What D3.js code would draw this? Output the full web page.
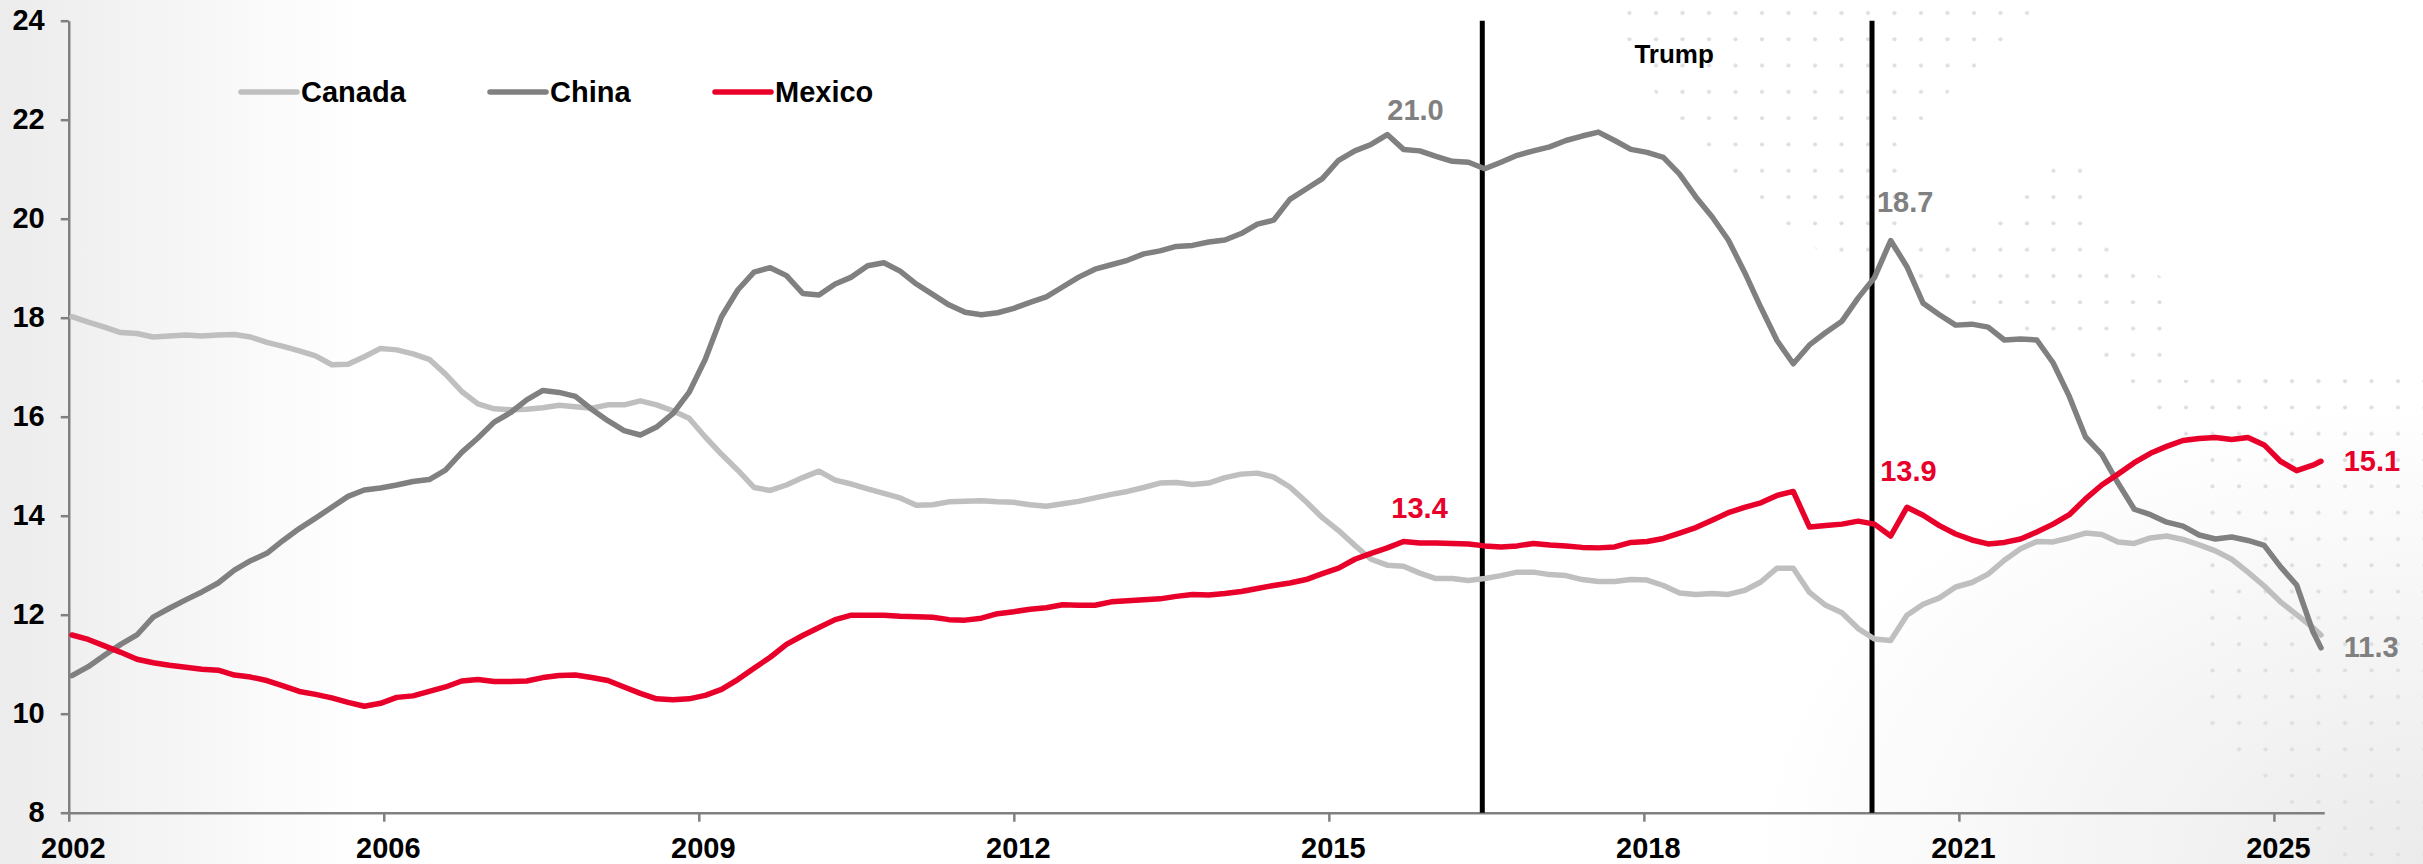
<!DOCTYPE html>
<html>
<head>
<meta charset="utf-8">
<script src="https://cdn.jsdelivr.net/npm/d3@7"></script>
<style>
  body { margin: 0; background: #fff; }
  svg { display: block; font-family: "Liberation Sans", Arial, sans-serif; font-weight: bold; }
</style>
</head>
<body>
<script>
// months counted from Jul 2002, sampled every second month
var months = d3.range(0, 277, 2).concat([277]);

var canada = [
  18.02, 17.91, 17.81, 17.70, 17.68, 17.61, 17.63, 17.65, 17.63, 17.65,
  17.66, 17.61, 17.50, 17.42, 17.33, 17.23, 17.05, 17.06, 17.21, 17.38,
  17.35, 17.27, 17.16, 16.86, 16.51, 16.26, 16.16, 16.14, 16.15, 16.18,
  16.23, 16.20, 16.17, 16.24, 16.24, 16.32, 16.24, 16.12, 15.97, 15.59,
  15.24, 14.92, 14.57, 14.51, 14.62, 14.77, 14.90, 14.72, 14.64, 14.54,
  14.45, 14.36, 14.21, 14.22, 14.28, 14.29, 14.30, 14.28, 14.27, 14.22,
  14.19, 14.24, 14.29, 14.36, 14.43, 14.49, 14.57, 14.66, 14.67, 14.63,
  14.66, 14.77, 14.84, 14.86, 14.78, 14.58, 14.28, 13.96, 13.70, 13.40,
  13.12, 13.00, 12.98, 12.84, 12.73, 12.73, 12.69, 12.73, 12.79, 12.86,
  12.86, 12.81, 12.79, 12.71, 12.67, 12.67, 12.71, 12.70, 12.59, 12.44,
  12.41, 12.43, 12.41, 12.49, 12.66, 12.94, 12.94, 12.45, 12.19, 12.04,
  11.72, 11.51, 11.48, 11.99, 12.21, 12.34, 12.56, 12.65, 12.82, 13.10,
  13.33, 13.48, 13.47, 13.55, 13.65, 13.62, 13.47, 13.44, 13.55, 13.59,
  13.52, 13.41, 13.29, 13.12, 12.86, 12.58, 12.26, 12.00, 11.74, 11.59
];

var china = [
  10.77, 10.95, 11.18, 11.40, 11.59, 11.95, 12.13, 12.30, 12.46, 12.64,
  12.90, 13.09, 13.24, 13.50, 13.74, 13.95, 14.17, 14.39, 14.52, 14.56,
  14.62, 14.69, 14.73, 14.92, 15.28, 15.57, 15.89, 16.08, 16.34, 16.53,
  16.49, 16.41, 16.15, 15.92, 15.72, 15.63, 15.79, 16.06, 16.49, 17.16,
  18.02, 18.56, 18.92, 19.01, 18.85, 18.49, 18.46, 18.68, 18.82, 19.05,
  19.11, 18.94, 18.68, 18.47, 18.26, 18.11, 18.06, 18.10, 18.19, 18.31,
  18.42, 18.62, 18.82, 18.98, 19.07, 19.16, 19.29, 19.35, 19.44, 19.46,
  19.53, 19.57, 19.70, 19.89, 19.97, 20.39, 20.60, 20.81, 21.18, 21.37,
  21.50, 21.70, 21.40, 21.37, 21.26, 21.16, 21.14, 21.01, 21.14, 21.28,
  21.37, 21.45, 21.58, 21.67, 21.75, 21.58, 21.40, 21.34, 21.24, 20.90,
  20.44, 20.04, 19.57, 18.92, 18.21, 17.54, 17.07, 17.45, 17.70, 17.93,
  18.40, 18.81, 19.56, 19.03, 18.29, 18.06, 17.85, 17.87, 17.81, 17.55,
  17.57, 17.55, 17.09, 16.41, 15.59, 15.24, 14.66, 14.13, 14.02, 13.87,
  13.79, 13.61, 13.53, 13.57, 13.50, 13.40, 12.97, 12.60, 11.66, 11.33
];

var mexico = [
  11.59, 11.50, 11.37, 11.24, 11.10, 11.03, 10.98, 10.94, 10.90, 10.88,
  10.78, 10.74, 10.67, 10.56, 10.45, 10.39, 10.32, 10.23, 10.15, 10.21,
  10.33, 10.36, 10.45, 10.54, 10.66, 10.69, 10.65, 10.65, 10.66, 10.73,
  10.77, 10.78, 10.73, 10.67, 10.54, 10.41, 10.30, 10.28, 10.30, 10.37,
  10.49, 10.69, 10.92, 11.14, 11.40, 11.58, 11.74, 11.90, 11.99, 11.99,
  11.99, 11.97, 11.96, 11.95, 11.90, 11.89, 11.93, 12.02, 12.06, 12.11,
  12.14, 12.20, 12.19, 12.19, 12.26, 12.28, 12.30, 12.32, 12.37, 12.41,
  12.40, 12.43, 12.47, 12.53, 12.59, 12.64, 12.71, 12.83, 12.94, 13.12,
  13.24, 13.35, 13.48, 13.45, 13.45, 13.44, 13.43, 13.39, 13.37, 13.39,
  13.44, 13.41, 13.39, 13.36, 13.35, 13.37, 13.46, 13.48, 13.54, 13.65,
  13.76, 13.91, 14.06, 14.17, 14.26, 14.41, 14.49, 13.77, 13.80, 13.83,
  13.89, 13.83, 13.59, 14.17, 14.01, 13.80, 13.63, 13.51, 13.43, 13.46,
  13.53, 13.67, 13.83, 14.02, 14.34, 14.62, 14.84, 15.07, 15.26, 15.40,
  15.52, 15.56, 15.58, 15.54, 15.58, 15.43, 15.10, 14.91, 15.02, 15.10
];

var seriesNames = ["Canada", "China", "Mexico"];
var yTicks = [8, 10, 12, 14, 16, 18, 20, 22, 24];
var xTickMonths = [-0.4, 38.4, 77.2, 116.0, 154.8, 193.6, 232.4, 271.2];
var xTickLabels = ["2002", "2006", "2009", "2012", "2015", "2018", "2021", "2025"];
var trumpMonths = [173.7, 221.7];
var valueLabels = ["21.0", "13.4", "18.7", "13.9", "15.1", "11.3"];

var width = 2423,
    height = 864;

var colors = ["#bfbfbf", "#808080", "#e8002a"];
var series = [canada, china, mexico];

var x = d3.scaleLinear()
    .domain([0, 277])
    .range([72, 2321]);

var y = d3.scaleLinear()
    .domain([8, 24])
    .range([812.7, 20.7]);

var svg = d3.select("body").append("svg")
    .attr("width", width)
    .attr("height", height);

var defs = svg.append("defs");

var leftGrad = defs.append("linearGradient")
    .attr("id", "leftGrad");
leftGrad.append("stop").attr("offset", 0).attr("stop-color", "#ececec");
leftGrad.append("stop").attr("offset", 1).attr("stop-color", "#ececec").attr("stop-opacity", 0);

var cornerGrad = defs.append("radialGradient")
    .attr("id", "cornerGrad")
    .attr("cx", 1).attr("cy", 1).attr("r", 1);
cornerGrad.append("stop").attr("offset", 0).attr("stop-color", "#ebebeb");
cornerGrad.append("stop").attr("offset", 1).attr("stop-color", "#ebebeb").attr("stop-opacity", 0);

var dots = defs.append("pattern")
    .attr("id", "dots")
    .attr("patternUnits", "userSpaceOnUse")
    .attr("width", 26.5)
    .attr("height", 26.3);
dots.append("circle")
    .attr("cx", 13).attr("cy", 13).attr("r", 2.1)
    .attr("fill", "#dedede");

// decorative slide background
svg.append("rect")
    .attr("width", width)
    .attr("height", height)
    .attr("fill", "#fff");
svg.append("rect")
    .attr("width", 360)
    .attr("height", height)
    .attr("fill", "url(#leftGrad)");
svg.append("rect")
    .attr("x", 1750).attr("y", 400)
    .attr("width", 673).attr("height", 464)
    .attr("fill", "url(#cornerGrad)");
svg.append("path")
    .attr("d", "M1600,0L2060,0L1950,90L1915,150L1915,225L1975,228L2040,170L2095,150L2100,235L2180,290L2185,380L2300,360L2423,370L2423,864L2330,864L2200,730L2190,460L2140,405L2090,355L2000,325L1940,285L1820,252L1760,205L1690,145L1650,85Z")
    .attr("fill", "url(#dots)");

var ax = x.copy().domain([-0.4, 277.4]).range([x(-0.4), x(277.4)]);

svg.append("g")
    .attr("class", "x axis")
    .attr("transform", "translate(0," + y(8) + ")")
    .call(d3.axisBottom(ax)
        .tickValues(xTickMonths)
        .tickFormat(function(d, i) { return xTickLabels[i]; })
        .tickSizeInner(9)
        .tickSizeOuter(0)
        .tickPadding(16));

svg.append("g")
    .attr("class", "y axis")
    .attr("transform", "translate(" + x(-0.4) + ",0)")
    .call(d3.axisLeft(y)
        .tickValues(yTicks)
        .tickSizeInner(8)
        .tickSizeOuter(0)
        .tickPadding(16));

svg.selectAll(".axis path, .axis line")
    .attr("stroke", "#808080")
    .attr("stroke-width", 2.5);

svg.selectAll(".axis text")
    .attr("fill", "#000")
    .style("font-size", "29px")
    .style("font-family", "'Liberation Sans', Arial, sans-serif")
    .style("font-weight", "bold");

svg.selectAll(".x.axis text")
    .attr("dx", 4);

svg.selectAll(".trump")
    .data(trumpMonths)
  .enter().append("line")
    .attr("class", "trump")
    .attr("x1", function(d) { return x(d); })
    .attr("x2", function(d) { return x(d); })
    .attr("y1", y(24))
    .attr("y2", y(8))
    .attr("stroke", "#000")
    .attr("stroke-width", 5);

svg.append("text")
    .attr("x", (x(trumpMonths[0]) + x(trumpMonths[1])) / 2 - 3)
    .attr("y", 63)
    .attr("text-anchor", "middle")
    .style("font-size", "26px")
    .text("Trump");

var line = d3.line()
    .x(function(d, i) { return x(months[i]); })
    .y(function(d) { return y(d); });

svg.selectAll(".series")
    .data(series)
  .enter().append("path")
    .attr("class", "series")
    .attr("d", line)
    .attr("fill", "none")
    .attr("stroke", function(d, i) { return colors[i]; })
    .attr("stroke-width", 5.5)
    .attr("stroke-linejoin", "round")
    .attr("stroke-linecap", "round");

// value call-outs: [month, value] anchor of the text's left baseline
var labelAnchors = [[162, 22.0], [162.5, 13.95], [222.3, 20.14], [222.7, 14.70], [279.8, 14.90], [279.8, 11.15]];
var labelColors = [colors[1], colors[2], colors[1], colors[2], colors[2], colors[1]];

svg.selectAll(".vlabel")
    .data(valueLabels)
  .enter().append("text")
    .attr("class", "vlabel")
    .attr("x", function(d, i) { return x(labelAnchors[i][0]); })
    .attr("y", function(d, i) { return y(labelAnchors[i][1]); })
    .attr("fill", function(d, i) { return labelColors[i]; })
    .style("font-size", "29px")
    .text(function(d) { return d; });

var legendX = [241, 490, 715];

var legend = svg.selectAll(".legend")
    .data(seriesNames)
  .enter().append("g")
    .attr("class", "legend")
    .attr("transform", function(d, i) { return "translate(" + legendX[i] + ",92)"; });

legend.append("line")
    .attr("x2", 56)
    .attr("stroke", function(d, i) { return colors[i]; })
    .attr("stroke-width", 5.5)
    .attr("stroke-linecap", "round");

legend.append("text")
    .attr("x", 60)
    .attr("y", 10)
    .style("font-size", "29px")
    .text(function(d) { return d; });
</script>
</body>
</html>
